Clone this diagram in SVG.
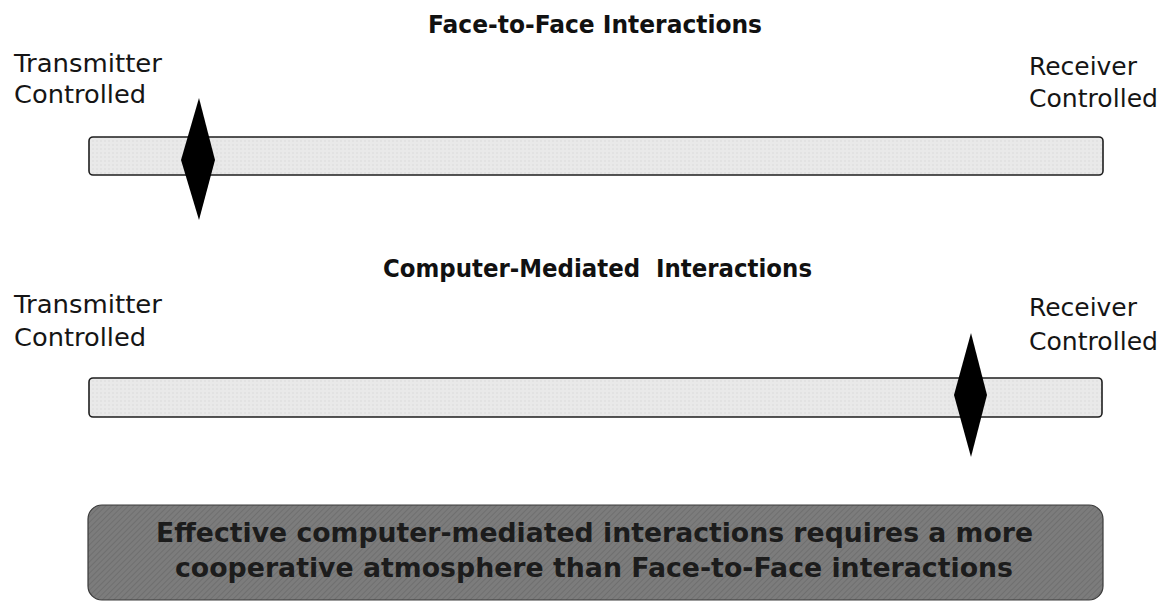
<svg xmlns="http://www.w3.org/2000/svg" width="1164" height="602" viewBox="0 0 1164 602">
  <defs>
    <pattern id="hatch" width="4" height="4" patternUnits="userSpaceOnUse" patternTransform="rotate(45)">
      <rect width="4" height="4" fill="#7c7c7c"/>
      <line x1="0" y1="0" x2="0" y2="4" stroke="#6a6a6a" stroke-width="1.5"/>
    </pattern>
    <pattern id="barTex" width="4" height="4" patternUnits="userSpaceOnUse">
      <rect width="4" height="4" fill="#e9e9e9"/>
      <rect x="0" y="0" width="2" height="2" fill="#e2e2e2"/>
    </pattern>
  </defs>
  <style>
    .label { font-family: "DejaVu Sans", Verdana, sans-serif; font-size: 25.5px; fill: #151515; }
    .title { font-family: "DejaVu Sans", Verdana, sans-serif; font-size: 24px; font-weight: bold; fill: #111; }
    .bar { fill: url(#barTex); stroke: #1e1e1e; stroke-width: 1.6; }
    .marker { fill: #000; }
    .note { font-family: "DejaVu Sans", Verdana, sans-serif; font-size: 27px; font-weight: bold; fill: #1c1c1c; }
  </style>
  <rect width="1164" height="602" fill="#fff"/>

  <g id="scale-face-to-face">
    <text class="title" x="428" y="33" textLength="334" lengthAdjust="spacingAndGlyphs">Face-to-Face Interactions</text>
    <text class="label" x="14" y="72" textLength="148" lengthAdjust="spacingAndGlyphs">Transmitter</text>
    <text class="label" x="14" y="103" textLength="132" lengthAdjust="spacingAndGlyphs">Controlled</text>
    <text class="label" x="1029" y="75" textLength="108" lengthAdjust="spacingAndGlyphs">Receiver</text>
    <text class="label" x="1029" y="107" textLength="129" lengthAdjust="spacingAndGlyphs">Controlled</text>
    <rect class="bar" x="89" y="137" width="1014" height="38" rx="4"/>
    <polygon class="marker" points="199,98 215,160 199,220 181,160"/>
  </g>

  <g id="scale-computer-mediated">
    <text class="title" x="383" y="277" textLength="429" lengthAdjust="spacingAndGlyphs" xml:space="preserve">Computer-Mediated  Interactions</text>
    <text class="label" x="14" y="312.5" textLength="148" lengthAdjust="spacingAndGlyphs">Transmitter</text>
    <text class="label" x="14" y="346" textLength="132" lengthAdjust="spacingAndGlyphs">Controlled</text>
    <text class="label" x="1029" y="316" textLength="108" lengthAdjust="spacingAndGlyphs">Receiver</text>
    <text class="label" x="1029" y="350" textLength="129" lengthAdjust="spacingAndGlyphs">Controlled</text>
    <rect class="bar" x="89" y="378" width="1013" height="39" rx="4"/>
    <polygon class="marker" points="971,333 987,395 971,457 954,395"/>
  </g>

  <g id="conclusion">
    <rect x="88" y="505" width="1015" height="95" rx="14" fill="url(#hatch)" stroke="#3a3a3a" stroke-width="1.2"/>
    <text class="note" x="156" y="541.5" textLength="877" lengthAdjust="spacingAndGlyphs">Effective computer-mediated interactions requires a more</text>
    <text class="note" x="175" y="576.5" textLength="838" lengthAdjust="spacingAndGlyphs">cooperative atmosphere than Face-to-Face interactions</text>
  </g>
</svg>
